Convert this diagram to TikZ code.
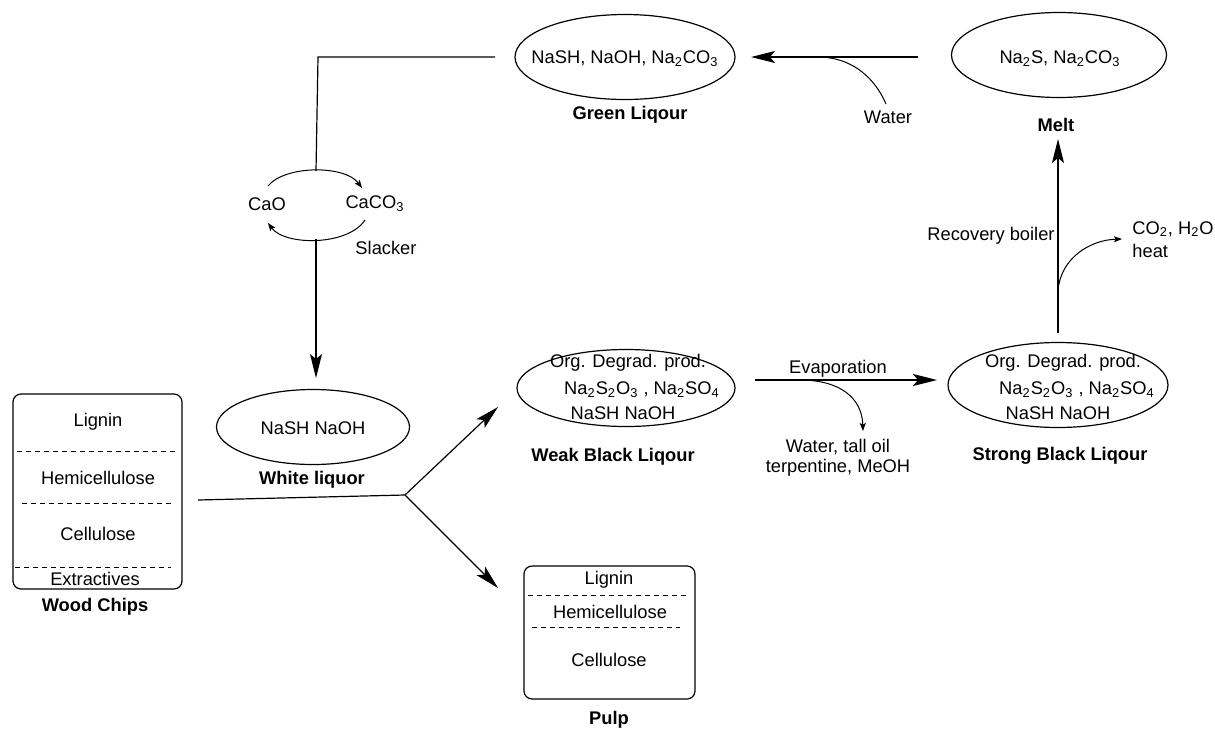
\documentclass[tikz,border=0pt]{standalone}
\usepackage{fontspec}
\setmainfont{Liberation Sans}
\usetikzlibrary{shapes.geometric,arrows.meta}
\tikzset{
  ell/.style={draw, ellipse, inner sep=0pt, line width=0.6pt},
  chbox/.style={draw, rectangle, rounded corners=4pt, inner sep=0pt, line width=0.6pt},
  txt/.style={inner sep=0pt, font=\fontsize{9.15}{11}\selectfont},
  lbl/.style={inner sep=0pt, font=\fontsize{9.15}{11}\selectfont\bfseries},
  conn/.style={line width=0.6pt},
  bigarr/.style={line width=0.6pt, -{Stealth[length=12pt,width=6pt,inset=2.5pt]}},
  smallarr/.style={line width=0.5pt, -{Stealth[length=4pt,width=3pt,inset=0.8pt]}},
  dsh/.style={line width=0.5pt, dash pattern=on 2.5pt off 2pt},
}
\newcommand{\ts}[1]{\textsubscript{#1}}
\begin{document}
\begin{tikzpicture}[x=0.5pt,y=-0.5pt]
\useasboundingbox (0,0) rectangle (1215,729);

% ellipses
\node[ell, minimum width=110pt, minimum height=42.5pt] (green) at (625,57) {};
\node[txt] (greent) at (625,59) {NaSH, NaOH, Na\ts{2}CO\ts{3}};
\node[lbl] (greenl) at (630,115) {Green Liqour};

\node[ell, minimum width=107.5pt, minimum height=42.5pt] (melt) at (1059,55) {};
\node[txt] (meltt) at (1060,59) {Na\ts{2}S, Na\ts{2}CO\ts{3}};
\node[lbl] (meltl) at (1056,125) {Melt};

\node[ell, minimum width=96.5pt, minimum height=37.5pt] (white) at (313,427) {};
\node[txt] (whitet) at (313,428) {NaSH NaOH};
\node[lbl] (whitel) at (312,480) {White liquor};

\node[ell, minimum width=109pt, minimum height=38.5pt] (weak) at (626,388) {};
\node[txt] (weak1) at (628,363) {Org. Degrad. prod.};
\node[txt] (weak2) at (642,390) {Na\ts{2}S\ts{2}O\ts{3} , Na\ts{2}SO\ts{4}};
\node[txt] (weak3) at (623,413) {NaSH NaOH};
\node[lbl] (weakl) at (613,457) {Weak Black Liqour};

\node[ell, minimum width=110pt, minimum height=42.5pt] (strong) at (1058,385) {};
\node[txt] (strong1) at (1063,363) {Org. Degrad. prod.};
\node[txt] (strong2) at (1077,390) {Na\ts{2}S\ts{2}O\ts{3} , Na\ts{2}SO\ts{4}};
\node[txt] (strong3) at (1058,413) {NaSH NaOH};
\node[lbl] (strongl) at (1060,456) {Strong Black Liqour};

% wood chips box
\node[chbox, minimum width=84.5pt, minimum height=97.5pt] (wood) at (97.5,491.5) {};
\node[txt] (w1) at (98,422) {Lignin};
\node[txt] (w2) at (98,478) {Hemicellulose};
\node[txt] (w3) at (98,534) {Cellulose};
\node[txt] (w4) at (95,579) {Extractives};
\node[lbl] (woodl) at (95,607) {Wood Chips};
\draw[dsh] (17,451) -- (176,451);
\draw[dsh] (22,503) -- (172,503);
\draw[dsh] (15,567) -- (171,567);

% pulp box
\node[chbox, minimum width=85.5pt, minimum height=66.5pt] (pulp) at (609.5,632.5) {};
\node[txt] (p1) at (609,580) {Lignin};
\node[txt] (p2) at (610,612) {Hemicellulose};
\node[txt] (p3) at (609,660) {Cellulose};
\node[lbl] (pulpl) at (609,720) {Pulp};
\draw[dsh] (528,595) -- (688,595);
\draw[dsh] (532,627) -- (680,627);

% CaO cycle
\node[txt] (cao) at (267,204) {CaO};
\node[txt] (caco) at (375,204) {CaCO\ts{3}};
\node[txt] (slack) at (386,248) {Slacker};
\coordinate (cyctop) at (316,171);
\coordinate (cycbot) at (316,239);
\draw[smallarr] (268,186) .. controls (285,165) and (345,165) .. (362,188);
\draw[smallarr] (365,220) .. controls (348,246) and (285,246) .. (268,223);

% green -> cycle
\coordinate (gout) at (495,57);
\draw[conn] (gout) -- (318,57) -- (cyctop);
\coordinate (wtop) at (316,378);
\draw[bigarr] (cycbot) -- (wtop);

% melt -> green with water
\coordinate (mout) at (918,57);
\coordinate (gin) at (751,57);
\draw[bigarr] (mout) -- (gin);
\node[txt] (water) at (888,117) {Water};
\draw[conn, line width=0.5pt] (886,104) .. controls (874,76) and (850,57) .. (818,57);

% wood -> branch
\coordinate (wout) at (198,500);
\coordinate (branch) at (405,495);
\coordinate (weakin) at (498,407);
\coordinate (pulpin) at (498,588);
\draw[conn] (wout) -- (branch);
\draw[bigarr] (branch) -- (weakin);
\draw[bigarr] (branch) -- (pulpin);

% evaporation
\coordinate (evs) at (755,380);
\coordinate (eve) at (937,380);
\draw[bigarr] (evs) -- (eve);
\node[txt] (evap) at (838,369) {Evaporation};
\draw[smallarr] (800,380) .. controls (840,380) and (862,398) .. (863,431);
\node[txt] (wto1) at (838,447) {Water, tall oil};
\node[txt] (wto2) at (838,468) {terpentine, MeOH};

% recovery boiler
\coordinate (sout) at (1058,333);
\coordinate (meltin) at (1058,139);
\draw[bigarr] (sout) -- (meltin);
\node[txt] (recov) at (991,236) {Recovery boiler};
\draw[smallarr] (1058,290) .. controls (1061,258) and (1090,240) .. (1122,239);
\node[txt, anchor=west] (co2) at (1132,229) {CO\ts{2}, H\ts{2}O};
\node[txt, anchor=west] (heat) at (1132,251) {heat};
\end{tikzpicture}
\end{document}
